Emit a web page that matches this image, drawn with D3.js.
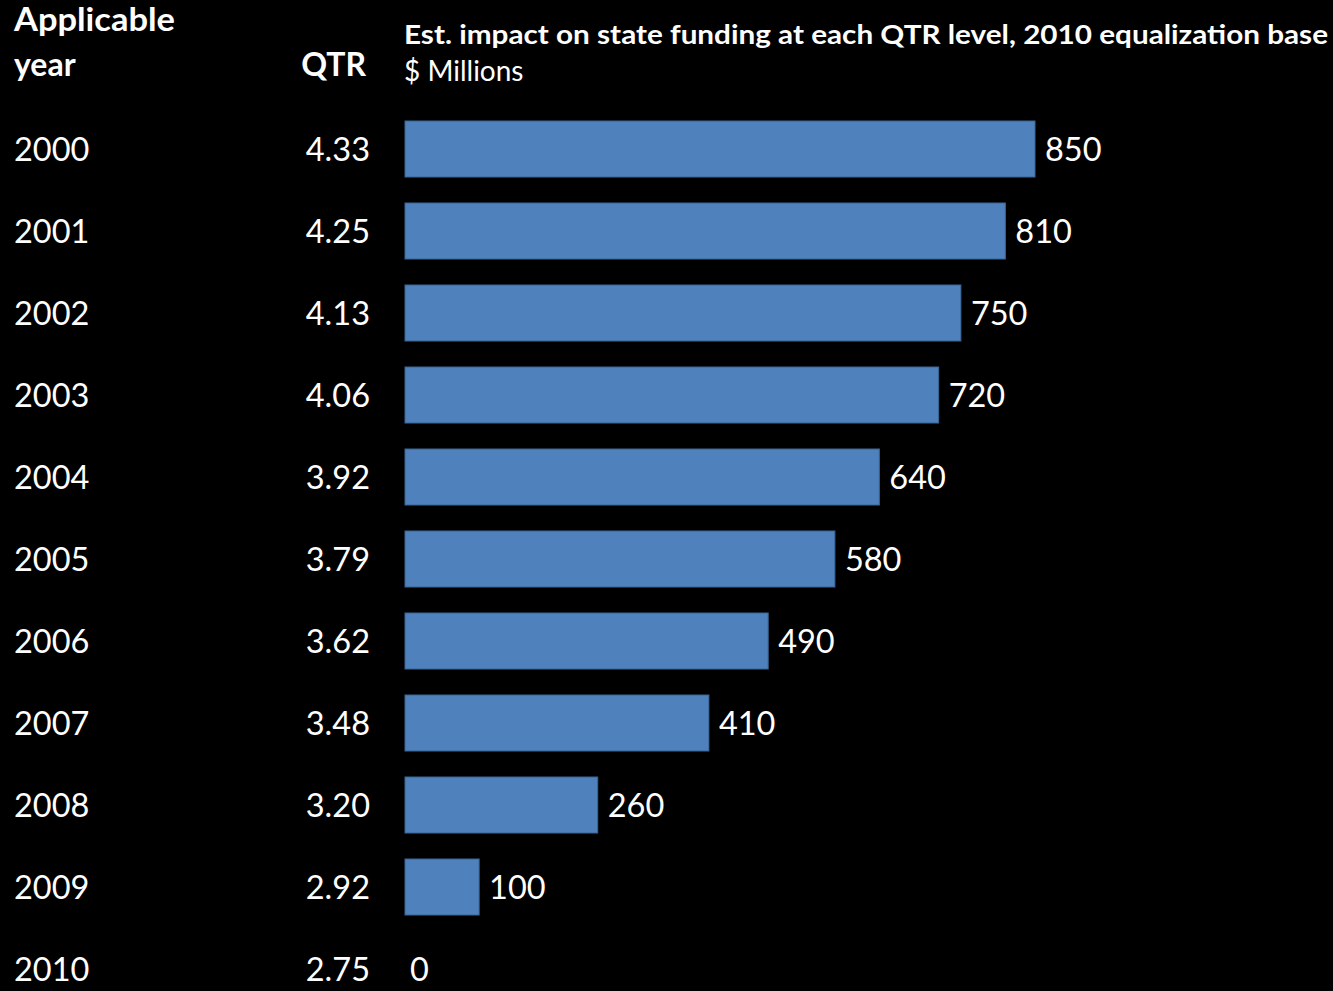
<!DOCTYPE html>
<html><head><meta charset="utf-8">
<script src="https://cdn.jsdelivr.net/npm/d3@7"></script>
<style>
html,body{margin:0;padding:0;background:#000;}
svg{display:block;}
text{font-family:Lato, "Open Sans", sans-serif;fill:#fff;}
</style></head>
<body>
<svg id="chart" width="1333" height="991"></svg>
<script>
const years = ["2000","2001","2002","2003","2004","2005","2006","2007","2008","2009","2010"];
const qtr = ["4.33","4.25","4.13","4.06","3.92","3.79","3.62","3.48","3.20","2.92","2.75"];
const impact = [850, 810, 750, 720, 640, 580, 490, 410, 260, 100, 0];
const title = "Est. impact on state funding at each QTR level, 2010 equalization base";
const subtitle = "$ Millions";
const colHeaderYear = ["Applicable", "year"];
const colHeaderQtr = "QTR";

const svg = d3.select("#chart");
const W = 1333, H = 991;
svg.append("rect").attr("width", W).attr("height", H).attr("fill", "#000");

const y = d3.scaleBand().domain(years).range([108, 1010]).paddingInner(0.317).paddingOuter(0.1585);
const x = d3.scaleLinear().domain([0, 850]).range([405, 1035]);

// headers
svg.append("text").attr("x", 14).attr("y", 31).attr("font-weight", "bold").attr("font-size", 32)
  .attr("textLength", 161).attr("lengthAdjust", "spacingAndGlyphs").text(colHeaderYear[0]);
svg.append("text").attr("x", 14).attr("y", 76).attr("font-weight", "bold").attr("font-size", 32).text(colHeaderYear[1]);
svg.append("text").attr("x", 366).attr("y", 76).attr("text-anchor", "end").attr("font-weight", "bold").attr("font-size", 32).text(colHeaderQtr);
svg.append("text").attr("x", 404).attr("y", 44).attr("font-weight", "bold").attr("font-size", 27)
  .attr("textLength", 924).attr("lengthAdjust", "spacingAndGlyphs").text(title);
svg.append("text").attr("x", 404).attr("y", 81).attr("font-size", 28).text(subtitle);

const rows = svg.append("g").selectAll("g").data(years).join("g");

rows.append("text").attr("x", 14).attr("y", d => y(d) + y.bandwidth() / 2 + 12)
  .attr("font-size", 32.5).text(d => d);
rows.append("text").attr("x", 370).attr("y", d => y(d) + y.bandwidth() / 2 + 12)
  .attr("text-anchor", "end").attr("font-size", 32.5).text((d, i) => qtr[i]);

rows.filter((d, i) => impact[i] > 0).append("rect")
  .attr("x", x(0)).attr("y", d => y(d)).attr("height", y.bandwidth())
  .attr("width", d => x(impact[years.indexOf(d)]) - x(0))
  .attr("fill", "#4F81BD").attr("stroke", "#3A6596").attr("stroke-width", 1);

rows.append("text").attr("x", (d, i) => x(impact[i]) + (impact[i] > 0 ? 10 : 5))
  .attr("y", d => y(d) + y.bandwidth() / 2 + 12)
  .attr("font-size", 32.5).text((d, i) => impact[i]);
</script>
</body></html>
